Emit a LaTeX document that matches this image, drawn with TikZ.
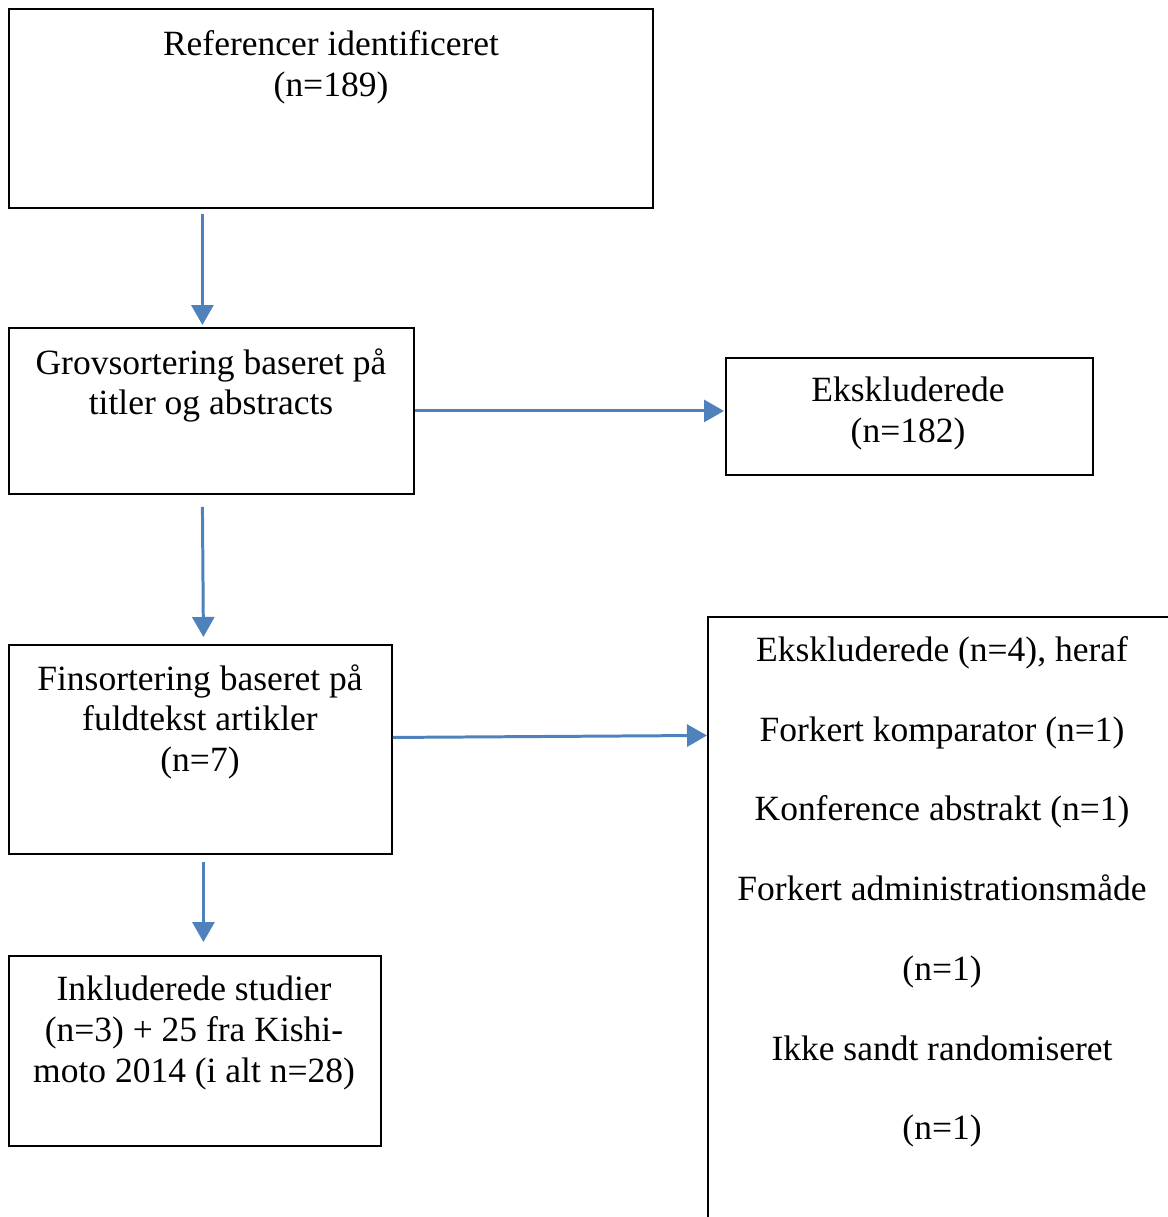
\documentclass[tikz,border=0pt]{standalone}
\usepackage{fontspec}
\setmainfont{Liberation Serif}
\usetikzlibrary{calc,arrows.meta}
\definecolor{wordblue}{HTML}{4F81BD}
\tikzset{signal/.style={%
  -{Triangle[length=0.4cm,width=0.44cm]},
  draw=wordblue,
  line width=1.7pt,
  }
}
\tikzset{block/.style={%
  draw,
  line width=1.1pt,
  inner sep=0pt,
  anchor=north west,
  }
}
\tikzset{blocktext/.style={%
  anchor=north,
  inner sep=0pt,
  align=center,
  font=\fontsize{20.2}{23.2}\selectfont,
  }
}

\begin{document}
\begin{tikzpicture}[x=0.02cm,y=-0.02cm]
  \useasboundingbox (0,0) rectangle (1168,1217);
  \clip (0,0) rectangle (1168,1217);

  \node (ref) [block, minimum width=12.88cm, minimum height=3.98cm] at (8,8) {};
  \node (grov) [block, minimum width=8.10cm, minimum height=3.32cm] at (8,327) {};
  \node (exc1) [block, minimum width=7.34cm, minimum height=2.34cm] at (725,357) {};
  \node (fin) [block, minimum width=7.66cm, minimum height=4.18cm] at (8,644) {};
  \node (inkl) [block, minimum width=7.44cm, minimum height=3.80cm] at (8,955) {};
  \node (exc2) [block, minimum width=9.46cm, minimum height=12.28cm] at (707,616) {};

  \node (ref text) [blocktext] at (331,30) {Referencer identificeret\\(n=189)};
  \node (grov text) [blocktext] at (211,348) {Grovsortering baseret på\\titler og abstracts};
  \node (exc1 text) [blocktext] at (908,377) {Ekskluderede\\(n=182)};
  \node (fin text) [blocktext] at (200,664) {Finsortering baseret på\\fuldtekst artikler\\(n=7)};
  \node (inkl text) [blocktext] at (194,976) {Inkluderede studier\\(n=3) + 25 fra Kishi-\\moto 2014 (i alt n=28)};
  \node (exc2 text) [blocktext, font=\fontsize{20.2}{45.4}\selectfont] at (942,636)
    {Ekskluderede (n=4), heraf\\Forkert komparator (n=1)\\Konference abstrakt (n=1)\\Forkert administrationsmåde\\(n=1)\\Ikke sandt randomiseret\\(n=1)};

  \draw [signal] ($(ref.south -| grov.north)+(-9,5)$) -- ($(grov.north)+(-9,-2)$);
  \draw [signal] (grov.east) -- ($(grov.east -| exc1.west)+(-1,0)$);
  \draw [signal] ($(grov.south)+(-9,12)$) -- ($(grov.south |- fin.north)+(-8,-7)$);
  \draw [signal] ($(fin.east)+(0,-12)$) -- ($(fin.east -| exc2.west)+(0,-14)$);
  \draw [signal] ($(fin.south)+(3,7)$) -- ($(fin.south |- inkl.north)+(3,-13)$);
\end{tikzpicture}
\end{document}
